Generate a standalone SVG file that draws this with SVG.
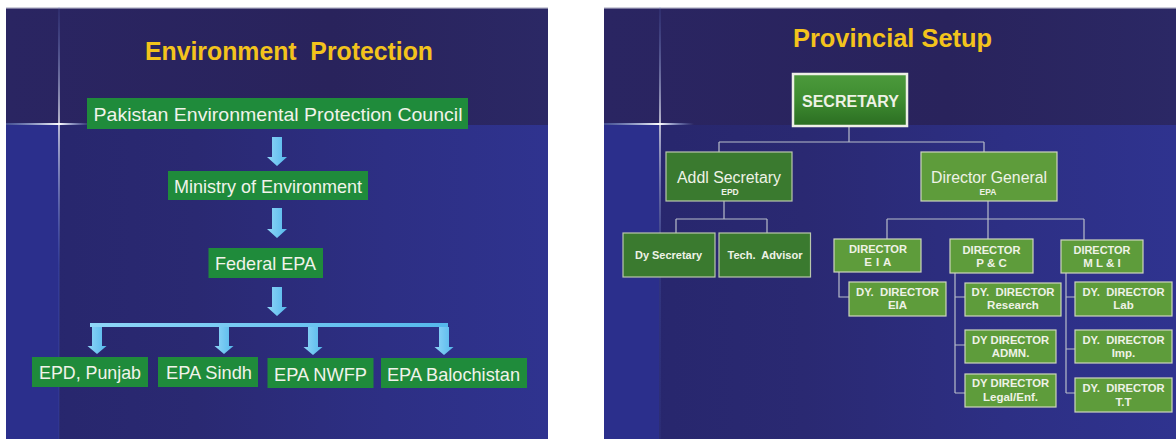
<svg xmlns="http://www.w3.org/2000/svg" width="1176" height="439" viewBox="0 0 1176 439">
  <defs>
    <style>
      .title { font-family: "Liberation Sans", Arial, sans-serif; font-weight: bold; font-size: 25px; fill: #f3c31c; text-anchor: middle; }
      .lbl { font-family: "Liberation Sans", Arial, sans-serif; font-size: 19px; fill: #f1f3ea; text-anchor: middle; }
      .box { fill: #1f8b3b; }
      .flow { fill: url(#arrowFill); }
      .org { font-family: "Liberation Sans", Arial, sans-serif; fill: #eef2e6; text-anchor: middle; }
      .big { font-size: 16px; }
      .sub { font-size: 8.5px; font-weight: bold; }
      .sm { font-size: 11.5px; font-weight: bold; }
      .dark { fill: #3a7a2f; stroke: #b9c7ac; stroke-width: 1.2; }
      .light { fill: #5e9c3b; stroke: #cdd6bd; stroke-width: 1.2; }
      .wire { fill: none; stroke: #b8bdca; stroke-width: 1.2; }
    </style>
    <linearGradient id="upperBg" x1="0" y1="0" x2="1" y2="0">
      <stop offset="0" stop-color="#2a2562"/>
      <stop offset="0.6" stop-color="#29235c"/>
      <stop offset="1" stop-color="#2b2865"/>
    </linearGradient>
    <linearGradient id="lowerBg" x1="0" y1="0" x2="1" y2="0">
      <stop offset="0" stop-color="#27266c"/>
      <stop offset="0.35" stop-color="#2a2972"/>
      <stop offset="0.7" stop-color="#2d2f84"/>
      <stop offset="1" stop-color="#2f338f"/>
    </linearGradient>
    <linearGradient id="flareH" x1="0" y1="0" x2="1" y2="0">
      <stop offset="0" stop-color="#6f8fd8" stop-opacity="0.4"/>
      <stop offset="0.62" stop-color="#ffffff" stop-opacity="1"/>
      <stop offset="1" stop-color="#8fb0ff" stop-opacity="0"/>
    </linearGradient>
    <linearGradient id="flareV" x1="0" y1="0" x2="0" y2="1">
      <stop offset="0" stop-color="#5d78d0" stop-opacity="0.15"/>
      <stop offset="0.27" stop-color="#ffffff" stop-opacity="0.95"/>
      <stop offset="0.6" stop-color="#5d78d0" stop-opacity="0.25"/>
      <stop offset="1" stop-color="#5d78d0" stop-opacity="0.1"/>
    </linearGradient>
    <linearGradient id="arrowFill" x1="0" y1="0" x2="1" y2="0">
      <stop offset="0" stop-color="#8fd6f7"/>
      <stop offset="1" stop-color="#55b8ec"/>
    </linearGradient>
    <linearGradient id="secFill" x1="0" y1="0" x2="0" y2="1">
      <stop offset="0" stop-color="#4c9a3c"/>
      <stop offset="0.5" stop-color="#3e8c30"/>
      <stop offset="1" stop-color="#2b6d22"/>
    </linearGradient>
  </defs>

  <!-- page -->
  <rect x="0" y="0" width="1176" height="439" fill="#ffffff"/>

  <!-- slide 1 background -->
  <g id="slide1-bg">
    <rect x="6" y="7" width="542" height="118" fill="url(#upperBg)"/>
    <rect x="6" y="125" width="542" height="314" fill="url(#lowerBg)"/>
    <rect x="6" y="125" width="53" height="314" fill="#2b2f8c"/>
    <rect x="6" y="7" width="542" height="1.5" fill="#cfd0dc"/>
    <rect x="58.3" y="7" width="1.4" height="432" fill="url(#flareV)"/>
    <rect x="6" y="123" width="86" height="2" fill="url(#flareH)"/>
  </g>

  <!-- slide 2 background -->
  <g id="slide2-bg">
    <rect x="604" y="7" width="572" height="118" fill="url(#upperBg)"/>
    <rect x="604" y="125" width="572" height="314" fill="url(#lowerBg)"/>
    <rect x="604" y="125" width="55" height="314" fill="#2b2f8c"/>
    <rect x="604" y="7" width="572" height="1.5" fill="#cfd0dc"/>
    <rect x="659.3" y="7" width="1.4" height="432" fill="url(#flareV)"/>
    <rect x="604" y="123" width="90" height="2" fill="url(#flareH)"/>
  </g>

  <!-- slide 1: Environment Protection -->
  <text class="title" x="289" y="60" textLength="288" lengthAdjust="spacingAndGlyphs">Environment&#160; Protection</text>

  <g id="flow-connectors">
    <path class="flow" d="M272,137 H282 V157 H287 L277,166 L267,157 H272 Z"/>
    <path class="flow" d="M272,208 H282 V229 H287 L277,238 L267,229 H272 Z"/>
    <path class="flow" d="M272,287 H282 V307 H287 L277,316 L267,307 H272 Z"/>
    <rect class="flow" x="90" y="323" width="358" height="4"/>
    <path class="flow" d="M92,327 H102 V346 H106.5 L97,354 L87.5,346 H92 Z"/>
    <path class="flow" d="M219,327 H229 V346 H233.5 L224,354 L214.5,346 H219 Z"/>
    <path class="flow" d="M308,327 H318 V347 H322.5 L313,355 L303.5,347 H308 Z"/>
    <path class="flow" d="M439,327 H449 V347 H453.5 L444,355 L434.5,347 H439 Z"/>
  </g>

  <g id="pepc">
    <rect class="box" x="87" y="98" width="381" height="31"/>
    <text class="lbl" x="278" y="121" textLength="369" lengthAdjust="spacingAndGlyphs">Pakistan Environmental Protection Council</text>
  </g>
  <g id="ministry">
    <rect class="box" x="168" y="171" width="200" height="29"/>
    <text class="lbl" x="268" y="193" textLength="188" lengthAdjust="spacingAndGlyphs">Ministry of Environment</text>
  </g>
  <g id="federal-epa">
    <rect class="box" x="208.5" y="248" width="114.5" height="30"/>
    <text class="lbl" x="265.5" y="270" textLength="101" lengthAdjust="spacingAndGlyphs">Federal EPA</text>
  </g>
  <g id="epd-punjab">
    <rect class="box" x="32" y="357" width="116" height="30"/>
    <text class="lbl" x="90" y="379" textLength="102" lengthAdjust="spacingAndGlyphs">EPD, Punjab</text>
  </g>
  <g id="epa-sindh">
    <rect class="box" x="158" y="357" width="100" height="30"/>
    <text class="lbl" x="209" y="379" textLength="86" lengthAdjust="spacingAndGlyphs">EPA Sindh</text>
  </g>
  <g id="epa-nwfp">
    <rect class="box" x="267.5" y="358" width="106" height="30"/>
    <text class="lbl" x="320.5" y="381" textLength="93" lengthAdjust="spacingAndGlyphs">EPA NWFP</text>
  </g>
  <g id="epa-balochistan">
    <rect class="box" x="381" y="358" width="146" height="30"/>
    <text class="lbl" x="453.5" y="381" textLength="133" lengthAdjust="spacingAndGlyphs">EPA Balochistan</text>
  </g>

  <!-- slide 2: Provincial Setup -->
  <text class="title" x="892.5" y="47" textLength="199" lengthAdjust="spacingAndGlyphs">Provincial Setup</text>

  <g id="org-connectors">
    <path class="wire" d="M849,126 V142 M719,142 H984 M719,142 V152 M984,142 V152"/>
    <path class="wire" d="M724,201 V219 M676,219 H767 M676,219 V233 M767,219 V233"/>
    <path class="wire" d="M988,201 V219 M887,219 H1084 M887,219 V239 M988,219 V239 M1084,219 V240"/>
    <path class="wire" d="M839,272 V297 H849"/>
    <path class="wire" d="M955,273 V393 M955,297 H965 M955,345 H965 M955,393 H965"/>
    <path class="wire" d="M1066,273 V393 M1066,297 H1075 M1066,349 H1075 M1066,393 H1075"/>
  </g>

  <g id="secretary">
    <rect x="793" y="74" width="114" height="52" fill="url(#secFill)" stroke="#eef0e6" stroke-width="2.5"/>
    <text class="org" x="850.5" y="107" font-size="16" font-weight="bold" textLength="97" lengthAdjust="spacingAndGlyphs">SECRETARY</text>
  </g>
  <g id="addl-secretary">
    <rect class="dark" x="666" y="152" width="126" height="49"/>
    <text class="org big" x="729" y="183" textLength="104" lengthAdjust="spacingAndGlyphs">Addl Secretary</text>
    <text class="org sub" x="730" y="195">EPD</text>
  </g>
  <g id="director-general">
    <rect class="light" x="921" y="152" width="136" height="49"/>
    <text class="org big" x="989" y="183" textLength="116" lengthAdjust="spacingAndGlyphs">Director General</text>
    <text class="org sub" x="988" y="195">EPA</text>
  </g>
  <g id="dy-secretary">
    <rect class="dark" x="623" y="233" width="92" height="44"/>
    <text class="org sm" x="668.5" y="259" textLength="67" lengthAdjust="spacingAndGlyphs">Dy Secretary</text>
  </g>
  <g id="tech-advisor">
    <rect class="dark" x="719" y="233" width="91.5" height="44"/>
    <text class="org sm" x="765" y="259" textLength="75" lengthAdjust="spacingAndGlyphs">Tech.&#160; Advisor</text>
  </g>
  <g id="director-eia">
    <rect class="light" x="834" y="239" width="87" height="33"/>
    <text class="org sm" x="878" y="253" textLength="58" lengthAdjust="spacingAndGlyphs">DIRECTOR</text>
    <text class="org sm" x="878" y="266" letter-spacing="0.5">E I A</text>
  </g>
  <g id="director-pc">
    <rect class="light" x="950" y="239" width="83" height="34"/>
    <text class="org sm" x="991.5" y="254" textLength="58" lengthAdjust="spacingAndGlyphs">DIRECTOR</text>
    <text class="org sm" x="991.5" y="267">P &amp; C</text>
  </g>
  <g id="director-mli">
    <rect class="light" x="1061" y="240" width="82" height="33"/>
    <text class="org sm" x="1102" y="254" textLength="57" lengthAdjust="spacingAndGlyphs">DIRECTOR</text>
    <text class="org sm" x="1102" y="267">M L &amp; I</text>
  </g>
  <g id="dy-director-eia">
    <rect class="light" x="849" y="282" width="97" height="34"/>
    <text class="org sm" x="897.5" y="296" textLength="83" lengthAdjust="spacingAndGlyphs">DY.&#160; DIRECTOR</text>
    <text class="org sm" x="897.5" y="309">EIA</text>
  </g>
  <g id="dy-director-research">
    <rect class="light" x="965" y="283" width="96" height="33"/>
    <text class="org sm" x="1013" y="296" textLength="83" lengthAdjust="spacingAndGlyphs">DY.&#160; DIRECTOR</text>
    <text class="org sm" x="1013" y="309">Research</text>
  </g>
  <g id="dy-director-admn">
    <rect class="light" x="965" y="330" width="91" height="33"/>
    <text class="org sm" x="1010.5" y="344" textLength="77" lengthAdjust="spacingAndGlyphs">DY DIRECTOR</text>
    <text class="org sm" x="1010.5" y="357">ADMN.</text>
  </g>
  <g id="dy-director-legal">
    <rect class="light" x="965" y="374" width="91" height="33"/>
    <text class="org sm" x="1010.5" y="387" textLength="77" lengthAdjust="spacingAndGlyphs">DY DIRECTOR</text>
    <text class="org sm" x="1010.5" y="401">Legal/Enf.</text>
  </g>
  <g id="dy-director-lab">
    <rect class="light" x="1075" y="282" width="97" height="34"/>
    <text class="org sm" x="1123.5" y="296" textLength="82" lengthAdjust="spacingAndGlyphs">DY.&#160; DIRECTOR</text>
    <text class="org sm" x="1123.5" y="309">Lab</text>
  </g>
  <g id="dy-director-imp">
    <rect class="light" x="1075" y="330" width="97" height="33"/>
    <text class="org sm" x="1123.5" y="344" textLength="82" lengthAdjust="spacingAndGlyphs">DY.&#160; DIRECTOR</text>
    <text class="org sm" x="1123.5" y="357">Imp.</text>
  </g>
  <g id="dy-director-tt">
    <rect class="light" x="1075" y="378" width="97" height="34"/>
    <text class="org sm" x="1123.5" y="392" textLength="82" lengthAdjust="spacingAndGlyphs">DY.&#160; DIRECTOR</text>
    <text class="org sm" x="1123.5" y="406">T.T</text>
  </g>
</svg>
